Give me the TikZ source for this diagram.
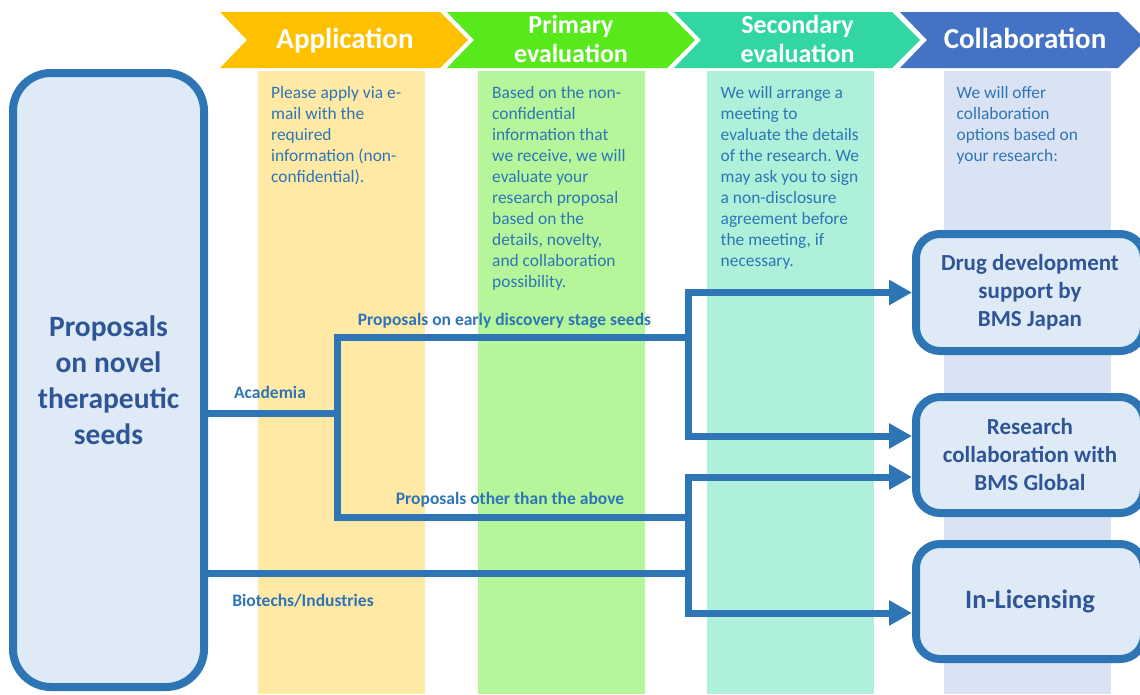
\documentclass[tikz,border=0pt]{standalone}
\usepackage{fontspec}
\setmainfont{Carlito}
\usetikzlibrary{arrows.meta}
\definecolor{lineblue}{HTML}{2E75B6}
\definecolor{navy}{HTML}{2F5597}
\definecolor{boxfill}{HTML}{DEEBF7}
\definecolor{chA}{HTML}{FFC000}
\definecolor{chP}{HTML}{57E91C}
\definecolor{chS}{HTML}{32D6A2}
\definecolor{chC}{HTML}{4472C4}
\definecolor{bdA}{HTML}{FFE9A5}
\definecolor{bdP}{HTML}{B5F69B}
\definecolor{bdS}{HTML}{AEF0DA}
\definecolor{bdC}{HTML}{DAE3F3}
\frenchspacing
\begin{document}
\begin{tikzpicture}[x=1pt,y=-1pt,
  bodytxt/.style={anchor=north west, inner sep=0pt, align=left, text=lineblue, font=\fontsize{17.4}{21}\selectfont},
  headone/.style={anchor=base, text=white, inner sep=0pt, font=\bfseries\fontsize{29}{35}\selectfont},
  headtwo/.style={text=white, inner sep=0pt, align=center, font=\bfseries\fontsize{26}{29}\selectfont},
  srcbox/.style={draw=lineblue, line width=8pt, fill=boxfill, rounded corners=38pt, minimum width=191pt, minimum height=614pt, text=navy, align=center, font=\bfseries\fontsize{29.5}{36}\selectfont},
  destbox/.style={draw=lineblue, line width=8pt, fill=boxfill, rounded corners=24pt, minimum width=228pt, text=navy, align=center, font=\bfseries\fontsize{23}{28}\selectfont},
  conn/.style={draw=lineblue, line width=7pt},
  arr/.style={conn, -{Triangle[length=23pt,width=24pt]}},
  lbl/.style={text=lineblue, inner sep=0pt, font=\bfseries\fontsize{17.5}{21}\selectfont}]
\useasboundingbox (0,0) rectangle (1140,694);
\clip (0,0) rectangle (1140,694);

% column bands
\fill[bdA] (258,71) rectangle (425,694);
\fill[bdP] (478,71) rectangle (645,694);
\fill[bdS] (707,71) rectangle (874,694);
\fill[bdC] (944,71) rectangle (1111,694);

% chevrons
\fill[chA] (220,12) -- (440,12) -- (468,40) -- (440,68) -- (220,68) -- (247,40) -- cycle;
\fill[chP] (447,12) -- (667,12) -- (695,40) -- (667,68) -- (447,68) -- (474,40) -- cycle;
\fill[chS] (674,12) -- (892,12) -- (920,40) -- (892,68) -- (674,68) -- (701,40) -- cycle;
\fill[chC] (900,12) -- (1118,12) -- (1146,40) -- (1118,68) -- (900,68) -- (927,40) -- cycle;

\node[headone] (hA) at (345,48) {Application};
\node[headtwo] (hP) at (571,38.7) {Primary\\evaluation};
\node[headtwo] (hS) at (797.5,38.7) {Secondary\\evaluation};
\node[headone] (hC) at (1025,48) {Collaboration};

% body texts
\node[bodytxt] (tA) at (271,83.3) {\strut Please apply via e-\\mail with the\\required\\information (non-\\confidential).};
\node[bodytxt] (tP) at (492,83.3) {\strut Based on the non-\\confidential\\information that\\we receive, we will\\evaluate your\\research proposal\\based on the\\details, novelty,\\and collaboration\\possibility.};
\node[bodytxt] (tS) at (720.5,83.3) {\strut We will arrange a\\meeting to\\evaluate the details\\of the research. We\\may ask you to sign\\a non-disclosure\\agreement before\\the meeting, if\\necessary.};
\node[bodytxt] (tC) at (956.5,83.3) {\strut We will offer\\collaboration\\options based on\\your research:};

% boxes
\node[srcbox] (src) at (108.5,380) {Proposals\\on novel\\therapeutic\\seeds};
\node[destbox, minimum height=117pt] (drug) at (1030,292.5) {Drug development\\support by\\BMS Japan};
\node[destbox, minimum height=116pt] (res) at (1030,455) {Research\\collaboration with\\BMS Global};
\node[destbox, minimum height=115pt, font=\bfseries\fontsize{26.5}{32}\selectfont] (lic) at (1030,601.5) {In-Licensing};

% junctions
\coordinate (ja) at (337,413);
\coordinate (tl) at (337,337);
\coordinate (bl) at (337,517);
\coordinate (tr) at (688,337);
\coordinate (br) at (688,517);
\coordinate (bt) at (688,573);

\draw[conn] (ja -| src.east) -- (ja);
\draw[conn, line join=miter] (tr) -- (tl) -- (bl) -- (br);
\draw[conn] (bt -| src.east) -- (bt);
\draw[conn] (br) -- (bt);
\draw[arr] (tr) |- (drug.west);
\draw[arr] (tr) |- ([yshift=19pt]res.west);
\draw[arr] (br) |- ([yshift=-22pt]res.west);
\draw[arr] (bt) |- ([yshift=-11.5pt]lic.west);

% labels
\node[lbl] (lAc) at (270,392) {Academia};
\node[lbl] (lEa) at (504.5,321) {Proposals on early discovery stage seeds};
\node[lbl] (lOt) at (510,500) {Proposals other than the above};
\node[lbl] (lBi) at (303,601) {Biotechs/Industries};
\end{tikzpicture}
\end{document}
